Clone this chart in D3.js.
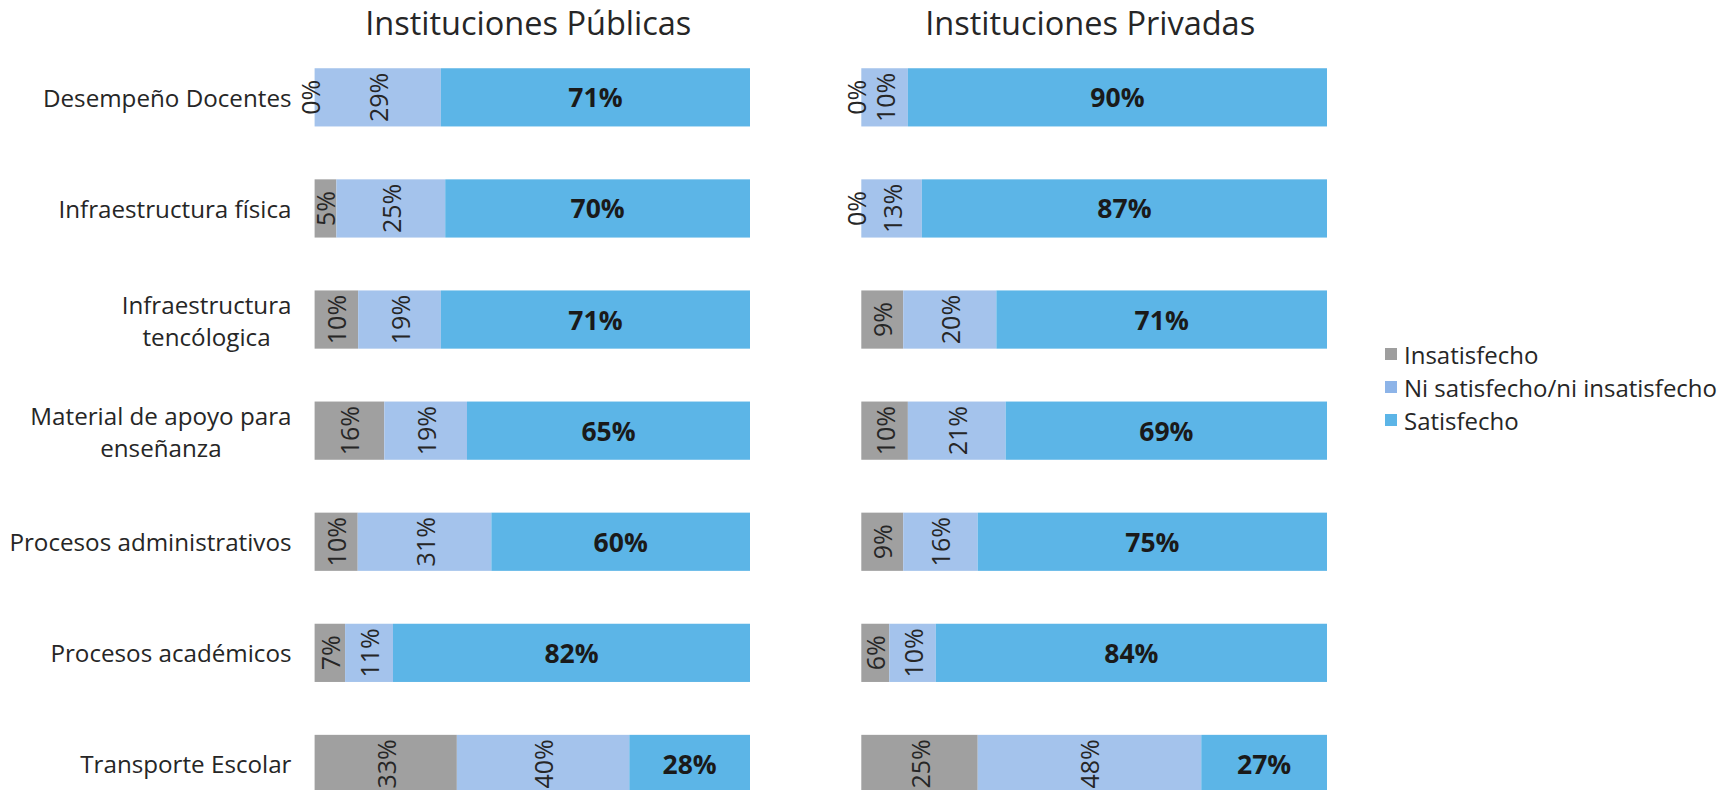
<!DOCTYPE html>
<html>
<head>
<meta charset="utf-8">
<style>
body { margin: 0; background: #fff; }
text { font-family: "Open Sans", sans-serif; fill: #262626; }
.title { font-size: 32.5px; }
.cat { font-size: 24.2px; }
.lbl { font-size: 25px; }
.lblbold { font-size: 26.5px; font-weight: bold; fill: #1a1a1a; }
.legend text { font-size: 24px; }
</style>
<title></title></head>
<body>
<script src="https://cdnjs.cloudflare.com/ajax/libs/d3/7.8.5/d3.min.js"></script>
<script>

var categories = [
  "Desempeño Docentes",
  "Infraestructura física",
  "Infraestructura\ntencólogica",
  "Material de apoyo para\nenseñanza",
  "Procesos administrativos",
  "Procesos académicos",
  "Transporte Escolar"
];

var seriesNames = ["Insatisfecho", "Ni satisfecho/ni insatisfecho", "Satisfecho"];
var barColors = ["#a0a0a0", "#a4c3ec", "#5cb5e7"];
var legendColors = ["#9e9e9e", "#8db4e8", "#5cb5e7"];

var publicInsatisfecho = [0, 5, 10, 16, 10, 7, 33];
var publicNi = [29, 25, 19, 19, 31, 11, 40];
var publicSatisfecho = [71, 70, 71, 65, 60, 82, 28];

var privateInsatisfecho = [0, 0, 9, 10, 9, 6, 25];
var privateNi = [10, 13, 20, 21, 16, 10, 48];
var privateSatisfecho = [90, 87, 71, 69, 75, 84, 27];

var width = 1725,
    height = 790;

var svg = d3.select("body").append("svg")
    .attr("width", width)
    .attr("height", height);

var y = d3.scaleBand()
    .domain(categories)
    .range([41.8, 819.5])
    .paddingInner(0.476)
    .paddingOuter(0.238);

function rows(ins, ni, sat) {
  return categories.map(function(c, i) {
    return {cat: c, s0: ins[i], s1: ni[i], s2: sat[i]};
  });
}

var panels = [
  {title: "Instituciones Públicas", x0: 314.6, x1: 750, data: rows(publicInsatisfecho, publicNi, publicSatisfecho)},
  {title: "Instituciones Privadas", x0: 861.3, x1: 1327, data: rows(privateInsatisfecho, privateNi, privateSatisfecho)}
];

var stack = d3.stack()
    .keys(["s0", "s1", "s2"])
    .offset(d3.stackOffsetExpand);

panels.forEach(function(p) {
  var x = d3.scaleLinear().domain([0, 1]).range([p.x0, p.x1]);
  var series = stack(p.data);
  var g = svg.append("g");

  g.append("text")
      .attr("class", "title")
      .attr("x", (p.x0 + p.x1) / 2 - 4)
      .attr("y", 35)
      .attr("text-anchor", "middle")
      .text(p.title);

  // bars
  series.forEach(function(s, k) {
    g.append("g")
        .attr("fill", barColors[k])
      .selectAll("rect")
      .data(s)
      .enter().append("rect")
        .attr("x", function(d) { return x(d[0]); })
        .attr("y", function(d) { return y(d.data.cat); })
        .attr("width", function(d) { return x(d[1]) - x(d[0]); })
        .attr("height", y.bandwidth());
  });

  // labels
  series.forEach(function(s, k) {
    var key = s.key;
    var lg = g.append("g");
    lg.selectAll("text")
      .data(s)
      .enter().append("text")
        .attr("class", k == 2 ? "lblbold" : "lbl")
        .attr("text-anchor", "middle")
        .attr("dominant-baseline", "central")
        .attr("transform", function(d) {
          var cx = (x(d[0]) + x(d[1])) / 2,
              cy = y(d.data.cat) + y.bandwidth() / 2;
          // empty segments: label sits just left of the bar start
          if (d[1] - d[0] == 0) cx -= 5;
          return "translate(" + cx + "," + cy + ")" + (k == 2 ? "" : " rotate(-90)");
        })
        .text(function(d) { return d.data[key] + "%"; });
  });
});

// category labels
var catRight = 291.5;
categories.forEach(function(c) {
  var lines = c.split("\n");
  var cy = y(c) + y.bandwidth() / 2;
  var t = svg.append("text")
      .attr("class", "cat")
      .attr("dominant-baseline", "central");
  if (lines.length == 1) {
    t.attr("x", catRight).attr("y", cy)
        .attr("text-anchor", "end")
        .text(c);
  } else {
    var lh = 32;
    t.attr("text-anchor", "middle");
    lines.forEach(function(l, i) {
      t.append("tspan")
          .attr("y", cy + (i - (lines.length - 1) / 2) * lh)
          .text(l);
    });
    var maxW = 0;
    t.selectAll("tspan").each(function() {
      maxW = Math.max(maxW, this.getComputedTextLength());
    });
    t.selectAll("tspan").attr("x", catRight - maxW / 2);
  }
});

// legend
var legend = svg.append("g")
    .attr("class", "legend")
    .selectAll("g")
    .data(seriesNames)
    .enter().append("g")
    .attr("transform", function(d, i) { return "translate(1385," + (354 + i * 33) + ")"; });

legend.append("rect")
    .attr("x", 0)
    .attr("y", -6)
    .attr("width", 12)
    .attr("height", 12)
    .attr("fill", function(d, i) { return legendColors[i]; });

legend.append("text")
    .attr("x", 19)
    .attr("y", 0)
    .attr("dominant-baseline", "central")
    .text(function(d) { return d; });

</script>
</body>
</html>
